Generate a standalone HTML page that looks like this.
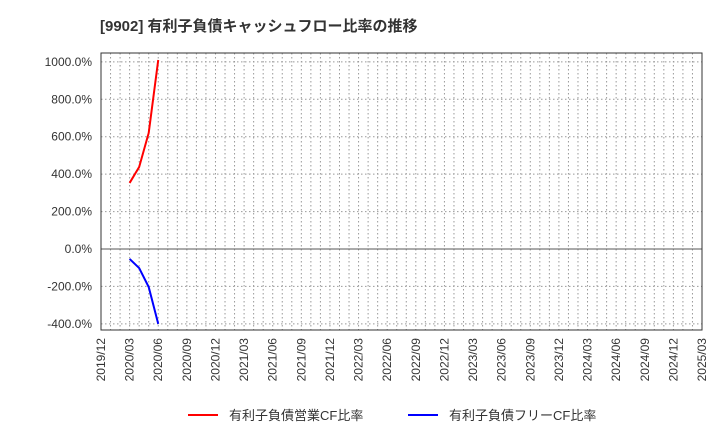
<!DOCTYPE html>
<html><head><meta charset="utf-8"><style>
body{margin:0;background:#fff;}
svg{font-family:"Liberation Sans","Noto Sans CJK JP",sans-serif;}
</style></head><body>
<svg id="chart" width="720" height="440" xmlns="http://www.w3.org/2000/svg">
<text x="100" y="31" font-size="15" font-weight="bold" fill="#333">[9902]  有利子負債キャッシュフロー比率の推移</text>
<g id="grid"></g>
<g id="axes"></g>
<g id="series"></g>
<g>
<line x1="188" y1="415" x2="218" y2="415" stroke="#f00" stroke-width="2"/>
<text x="229" y="420" font-size="13" fill="#333">有利子負債営業CF比率</text>
<line x1="408" y1="415" x2="438" y2="415" stroke="#00f" stroke-width="2"/>
<text x="449" y="420" font-size="13" fill="#333">有利子負債フリーCF比率</text>
</g>
</svg>
<script>
const xTickLabels=["2019/12","2020/03","2020/06","2020/09","2020/12","2021/03","2021/06","2021/09","2021/12","2022/03","2022/06","2022/09","2022/12","2023/03","2023/06","2023/09","2023/12","2024/03","2024/06","2024/09","2024/12","2025/03"];
const yTicks=[1000,800,600,400,200,0,-200,-400];
const months=[3,4,5,6]; // months since 2019/12
const opCF=[353,438,620,1010];
const freeCF=[-53,-102,-203,-400];
const L=101,R=702,T=53,B=330;
const totalMonths=63;
const x=m=>L+(R-L)*m/totalMonths;
const y=v=>249-v*0.18714;
const NS="http://www.w3.org/2000/svg";
function mk(tag,attrs,parent){const e=document.createElementNS(NS,tag);for(const k in attrs)e.setAttribute(k,attrs[k]);parent.appendChild(e);return e;}
const grid=document.getElementById('grid'),axes=document.getElementById('axes'),series=document.getElementById('series');
for(let m=1;m<totalMonths;m++){
 const g=mk('line',{x1:x(m),x2:x(m),y1:T,y2:B,stroke:'#999','stroke-dasharray':'1.5,2.5','stroke-width':1},grid);
 
 
}
yTicks.forEach(v=>{
 const g=mk('line',{x1:L,x2:R,y1:y(v),y2:y(v),stroke:v===0?'#555':'#999','stroke-dasharray':v===0?'none':'1.5,2.5','stroke-width':1},grid);
 
 
 const t=mk('text',{x:L-9,y:y(v)+4,'font-size':12,fill:'#333','text-anchor':'end'},axes);
 t.textContent=v.toFixed(1)+'%';
 
 
});
const frame=mk('rect',{x:L,y:T,width:R-L,height:B-T,fill:'none',stroke:'#333','stroke-width':1},axes);


xTickLabels.forEach((lab,i)=>{
 const xx=x(i*3);
 const t=mk('text',{x:xx+4,y:B+8,'font-size':12,fill:'#333','text-anchor':'end',transform:`rotate(-90 ${xx+4} ${B+8})`},axes);
 t.textContent=lab;
 
 
});
function line(vals,color,name){
 const p=mk('polyline',{points:vals.map((v,i)=>x(months[i])+','+y(v)).join(' '),fill:'none',stroke:color,'stroke-width':2},series);
 
 
}
line(opCF,'#f00','operating-cf-ratio-line');
line(freeCF,'#00f','free-cf-ratio-line');
</script>
</body></html>
